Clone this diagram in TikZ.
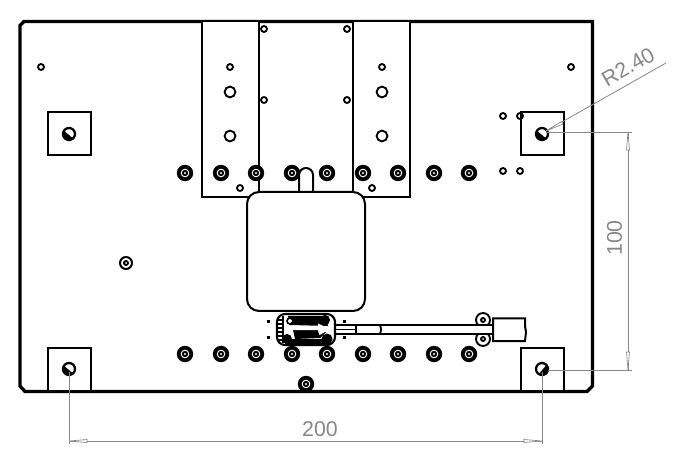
\documentclass[tikz,border=0pt]{standalone}
\usepackage{fontspec}
\setmainfont{Liberation Sans}
\definecolor{dimgray}{gray}{0.53}
\tikzset{
  x=0.75pt,y=-0.75pt,
  part/.style={draw=black,line width=1.5pt,fill=white},
  plate/.style={draw=black,line width=2.5pt},
  thin part/.style={draw=black,line width=1.4pt},
  dimline/.style={draw=dimgray,line width=0.6pt},
  dimtip/.style={draw=dimgray,line width=0.5pt,fill=white},
  dimtext/.style={text=dimgray,font=\fontsize{16pt}{18pt}\selectfont,inner sep=0pt}
}
\newcommand{\smallhole}[2]{\draw[thin part] (#1,#2) circle (3);}
\newcommand{\bighole}[2]{\draw[thin part] (#1,#2) circle (5.4);}
\newcommand{\bolt}[2]{\fill[black] (#1,#2) circle (8.2);
  \draw[white,line width=0.7pt] (#1,#2) circle (3.8);
  \fill[white] (#1,#2) circle (1.2);}
\newcommand{\pin}[3]{\draw[thin part,line width=1.7pt,fill=white] (#1,#2) circle (6);
  \begin{scope}[shift={(#1,#2)},rotate=#3]
    \fill[black] (-6,0) arc (180:0:6) -- (4,0.8) -- (-4,0.8) -- cycle;
  \end{scope}}
\begin{document}
\begin{tikzpicture}
\useasboundingbox (0,0) rectangle (681,466);
% plate
\draw[plate] (24,21.5) -- (592.5,21.5) -- (592.5,386) -- (587,391.5) -- (25,391.5) -- (20,386) -- (20,25.5) -- cycle;
% slide plates
\draw[part] (202,21.5) rectangle (259,197);
\draw[part] (353,21.5) rectangle (410,197);
% pad squares
\draw[part] (48,112) rectangle (91,155);
\draw[part] (521,112) rectangle (564,155);
\draw[part] (48,348) rectangle (91,391);
\draw[part] (521,348) rectangle (564,391);
% small holes
\foreach \hx/\hy in {41/67,571/67,230/67,382/67,264/29,347/29,264/100,347/100,240/188,372/188,503/116,520/116,503/171,520/171}{\smallhole{\hx}{\hy}}
\foreach \hx/\hy in {230/92,382/92,230/136,382/136}{\bighole{\hx}{\hy}}
% bolts
\foreach \hx in {185,221,256,292,327,363,398,434,469}{\bolt{\hx}{173}\bolt{\hx}{354}}
\bolt{306}{384}
% small screw
\draw[thin part,line width=1.5pt] (126,263) circle (6);
\fill[black] (126,263) circle (3);
\fill[white] (126,263) circle (1);
% slot
\draw[part,fill=none] (299,192) -- (299,175) arc (180:360:7) -- (313,192);
% central box
\draw[part] (259,192) -- (353,192) arc (-90:0:12) -- (365,299) arc (0:90:12) -- (259,311) arc (90:180:12) -- (247,204) arc (180:270:12) -- cycle;
% pins
\pin{69}{134}{-40}\pin{542}{134}{-40}\pin{69}{369}{-40}\pin{542}{369}{50}
% lugs
\draw[thin part] (483,320) circle (7);
\draw[thin part] (483,339) circle (7);
\fill[black] (483,320) circle (3);
\fill[black] (483,339) circle (3);
\fill[white] (483,320) circle (1);
\fill[white] (483,339) circle (1);
% cable
\draw[thin part,line width=1.5pt,fill=white] (331,325) rectangle (493,334);
\draw[thin part,line width=1.1pt] (331,329.5) -- (356,329.5);
\draw[thin part] (356,325) -- (356,334);
\draw[thin part] (380,325) arc (-30:30:9);
% connector block
\draw[part] (493,318.5) -- (525,318.5) -- (525,326) -- (526,332) -- (525,341) -- (493,341) -- cycle;
% chip
\draw[part,line width=1.6pt,rounded corners=6pt] (277,314) rectangle (335,345);
\foreach \cy in {320,324,328,332,336,340}{\draw[black,line width=0.8pt] (278,\cy) -- (283,\cy);}
\draw[black,line width=0.9pt] (283,316) -- (283,343);
\fill[black] (288,316) -- (326,316) -- (328,326) -- (290,325) -- cycle;
\fill[black] (293,330) -- (320,330) -- (326,332) -- (320,338) -- (295,339) -- cycle;
\fill[black] (285,339) -- (331,339) -- (331,344) -- (285,344) -- cycle;
\fill[black] (325,320) circle (5);
\fill[black] (287,339) circle (5);
\fill[black] (327,339) circle (5.5);
\fill[white] (290,321) circle (2);
\draw[black,line width=1.2pt] (290,321) circle (3);
\fill[white] (293,326.5) -- (318,326.5) -- (318,323.5) -- (330,329) -- (318,336) -- (318,330) -- (293,330) -- cycle;
\fill[black] (296,332) -- (318,331) -- (320,337) -- (296,338) -- cycle;
\fill[black] (266.5,320.5) rectangle (270,323.5);
\fill[black] (266.5,335.5) rectangle (270,338.5);
\fill[black] (342.5,320.5) rectangle (346,323.5);
\fill[black] (342.5,335.5) rectangle (346,338.5);
% dimensions
\coordinate (pinA) at (69,372);
\coordinate (pinB) at (542,372);
\coordinate (pinC) at (548,370);
\coordinate (pinD) at (546,132);
\coordinate (dimL) at (69,441);
\coordinate (dimR) at (542,441);
\coordinate (dimB) at (628,370);
\coordinate (dimT) at (628,132);
\draw[dimline] (pinA) -- (69,444);
\draw[dimline] (pinB) -- (542,444);
\draw[dimline] (dimL) -- (dimR);
\draw[dimline] (pinC) -- (632,370);
\draw[dimline] (pinD) -- (632,132);
\draw[dimline] (dimT) -- (dimB);
\draw[dimline] (546,131) -- (666,63);
\draw[dimtip] (69,441) -- (87,439.5) -- (87,442.5) -- cycle;
\draw[dimtip] (542,441) -- (524,439.5) -- (524,442.5) -- cycle;
\draw[dimtip] (628,132) -- (626.5,150) -- (629.5,150) -- cycle;
\draw[dimtip] (628,370) -- (626.5,352) -- (629.5,352) -- cycle;
\draw[dimtip] (546,131) -- (563,124) -- (561.5,121.5) -- cycle;
\node[dimtext] (lenA) at (320,429.5) {200};
\node[dimtext,rotate=90] (lenB) at (614.5,238) {100};
\node[dimtext,rotate=30] (lenC) at (628,67) {R2.40};
\end{tikzpicture}
\end{document}
